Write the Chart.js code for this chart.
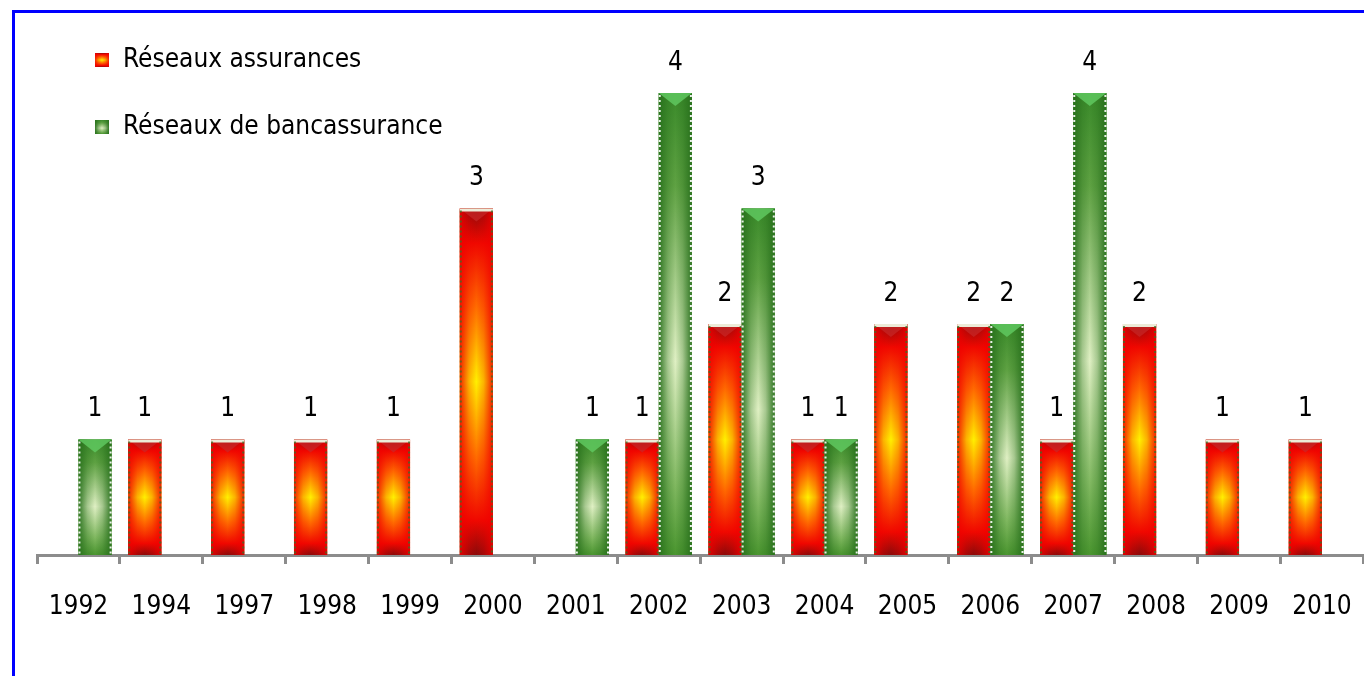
<!DOCTYPE html>
<html lang="fr">
<head>
<meta charset="UTF-8" />
<title>Réseaux assurances / bancassurance</title>
<script src="https://cdn.jsdelivr.net/npm/chart.js@4.4.1/dist/chart.umd.min.js"></script>
<style>
	html, body { margin: 0; padding: 0; background: #fff; overflow: hidden; }
	#wrap { position: absolute; left: 0; top: 0; width: 1380px; height: 676px; }
</style>
</head>
<body>
<div id="wrap"><canvas id="myChart" width="1380" height="676"></canvas></div>
<script>
	// values
	const years = ['1992', '1994', '1997', '1998', '1999', '2000', '2001', '2002',
		'2003', '2004', '2005', '2006', '2007', '2008', '2009', '2010'];
	const assurances = [0, 1, 1, 1, 1, 3, 0, 1, 2, 1, 2, 2, 1, 2, 1, 1];
	const bancassurance = [1, 0, 0, 0, 0, 0, 1, 4, 3, 1, 0, 2, 4, 0, 0, 0];
	const seriesNames = ['Réseaux assurances', 'Réseaux de bancassurance'];

	const FONT = '"DejaVu Sans Condensed", "DejaVu Sans", Verdana, sans-serif';

	// vertical colour run + colour of the side edges
	const looks = [{
			vert: [[0, '#8a0a0a'], [0.1, '#f00800'], [0.28, '#ff6a00'], [0.5, '#fff000'], [0.72, '#ff6a00'], [0.9, '#f00800'], [1, '#8a0a0a']],
			side: '240,0,0',
			edge: 0.85, mid: 0.25
		},
		{
			vert: [[0, '#3a8a2a'], [0.2, '#5fa243'], [0.58, '#e0f0c4'], [0.85, '#80b860'], [1, '#4a952f']],
			side: '40,112,28',
			edge: 0.95, mid: 0.3
		}
	];

	function fillBar(ctx, left, top, w, h, look) {
		ctx.save();
		const gv = ctx.createLinearGradient(0, top, 0, top + h);
		look.vert.forEach(s => gv.addColorStop(s[0], s[1]));
		ctx.fillStyle = gv;
		ctx.fillRect(left, top, w, h);
		const gh = ctx.createLinearGradient(left, 0, left + w, 0);
		gh.addColorStop(0, 'rgba(' + look.side + ',' + look.edge + ')');
		gh.addColorStop(0.28, 'rgba(' + look.side + ',' + look.mid + ')');
		gh.addColorStop(0.5, 'rgba(' + look.side + ',0)');
		gh.addColorStop(0.72, 'rgba(' + look.side + ',' + look.mid + ')');
		gh.addColorStop(1, 'rgba(' + look.side + ',' + look.edge + ')');
		ctx.fillStyle = gh;
		ctx.fillRect(left, top, w, h);
		ctx.restore();
	}

	const barLook = {
		id: 'barLook',
		beforeDraw(chart) {
			const ctx = chart.ctx;
			ctx.save();
			ctx.fillStyle = '#fff';
			ctx.fillRect(0, 0, chart.width, chart.height);
			// blue frame, left and top
			ctx.fillStyle = '#0000ff';
			ctx.fillRect(12, 10, 3, chart.height);
			ctx.fillRect(12, 10, chart.width, 3);
			ctx.restore();
		},
		afterDatasetsDraw(chart) {
			const ctx = chart.ctx;
			chart.data.datasets.forEach((ds, di) => {
				const meta = chart.getDatasetMeta(di);
				meta.data.forEach((bar, i) => {
					const v = ds.data[i];
					if (!v) return;
					const p = bar.getProps(['x', 'y', 'base', 'width'], true);
					const left = p.x - p.width / 2;
					const top = p.y;
					const h = p.base - p.y;
					const w = p.width;
					fillBar(ctx, left, top, w, h, looks[di]);

					ctx.save();
					// top chevron
					ctx.beginPath();
					ctx.moveTo(left, top);
					ctx.lineTo(left + w, top);
					ctx.lineTo(left + w / 2, top + 13);
					ctx.closePath();
					ctx.fillStyle = di === 0 ? 'rgba(200,40,40,0.7)' : 'rgba(95,200,95,0.85)';
					ctx.fill();
					if (di === 0) {
						ctx.fillStyle = '#ecebd8';
						ctx.fillRect(left, top, w, 3);
					}
					// dashed edges
					ctx.lineWidth = 2;
					ctx.setLineDash([2, 3]);
					ctx.strokeStyle = di === 0 ? 'rgba(60,110,40,0.8)' : 'rgba(255,255,255,0.9)';
					ctx.beginPath();
					ctx.moveTo(left + 1, top + 2);
					ctx.lineTo(left + 1, p.base);
					ctx.moveTo(left + w - 1, top + 2);
					ctx.lineTo(left + w - 1, p.base);
					ctx.stroke();
					ctx.restore();

					// value label
					ctx.save();
					ctx.font = '26px ' + FONT;
					ctx.fillStyle = '#000';
					ctx.textAlign = 'center';
					ctx.textBaseline = 'middle';
					ctx.fillText(String(v), p.x, top - 30);
					ctx.restore();
				});
			});

			// legend
			ctx.save();
			ctx.font = '26px ' + FONT;
			ctx.textBaseline = 'middle';
			ctx.textAlign = 'left';
			const rows = [60, 127];
			rows.forEach((cy, k) => {
				fillBar(ctx, 95, cy - 7, 14, 14, looks[k]);
				ctx.fillStyle = '#000';
				ctx.fillText(seriesNames[k], 123, cy);
			});
			ctx.restore();
		}
	};

	const ctx = document.getElementById('myChart').getContext('2d');
	const myChart = new Chart(ctx, {
		type: 'bar',
		data: {
			labels: years,
			datasets: [{
					label: seriesNames[0],
					data: assurances,
					backgroundColor: '#ff5a00',
					borderWidth: 0,
					barPercentage: 1.0,
					categoryPercentage: 0.8
				},
				{
					label: seriesNames[1],
					data: bancassurance,
					backgroundColor: '#5a9e3a',
					borderWidth: 0,
					barPercentage: 1.0,
					categoryPercentage: 0.8
				}
			]
		},
		options: {
			responsive: false,
			animation: false,
			devicePixelRatio: 1,
			layout: {
				padding: { left: 37, top: 93, right: 10, bottom: 0 }
			},
			plugins: {
				legend: { display: false },
				tooltip: { enabled: false }
			},
			scales: {
				x: {
					afterFit(scale) { scale.height = 121; },
					grid: {
						offset: true,
						drawOnChartArea: false,
						drawTicks: true,
						tickLength: 9,
						color: '#8c8c8c',
						lineWidth: 3
					},
					border: { color: '#8c8c8c', width: 3 },
					ticks: {
						color: '#000',
						padding: 28,
						font: { family: FONT, size: 26 }
					}
				},
				y: {
					display: false,
					min: 0,
					max: 4
				}
			}
		},
		plugins: [barLook]
	});
</script>
</body>
</html>
